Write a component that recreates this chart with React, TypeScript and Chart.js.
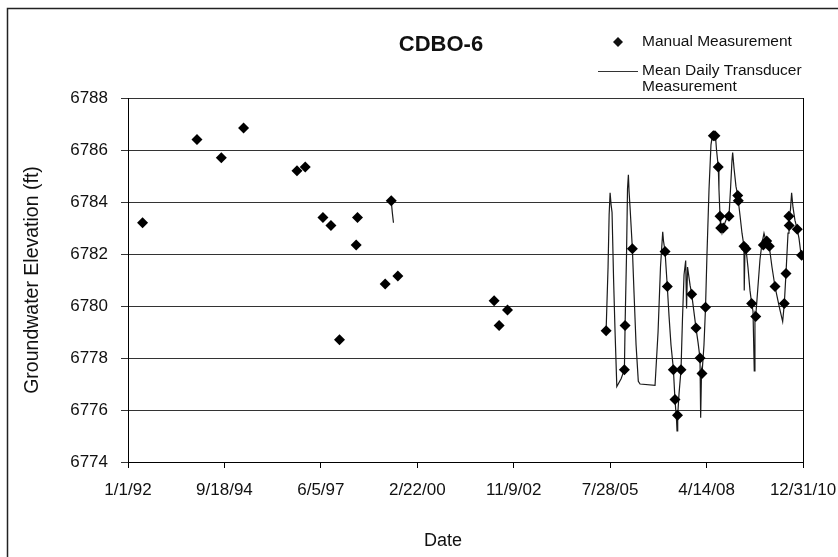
import React, { useEffect, useRef } from "react";
import { Chart, registerables } from "chart.js";

Chart.register(...registerables);

const chartTitle = "CDBO-6";
const xAxisTitle = "Date";
const yAxisTitle = "Groundwater Elevation (ft)";
const manualLabel = "Manual Measurement";
const transducerLabel = ["Mean Daily Transducer", "Measurement"];

const xTickLabels = ["1/1/92", "9/18/94", "6/5/97", "2/22/00", "11/9/02", "7/28/05", "4/14/08", "12/31/10"];
const xStart = "1992-01-01";
const xEnd = "2010-12-31";
const yMin = 6774;
const yMax = 6788;
const yStep = 2;

const manualDates = [
  "1992-05-30", "1993-12-10", "1994-08-17", "1995-04-03", "1996-10-03", "1996-12-27",
  "1997-06-27", "1997-09-17", "1997-12-14", "1998-06-04", "1998-06-17", "1999-03-29",
  "1999-05-30", "1999-08-06", "2002-04-22", "2002-06-12", "2002-09-06",
  "2005-06-16", "2005-12-21", "2005-12-28", "2006-03-13", "2007-02-12", "2007-03-07",
  "2007-05-08", "2007-05-25", "2007-06-20", "2007-07-26", "2007-11-13", "2007-12-27",
  "2008-02-07", "2008-02-27", "2008-04-03", "2008-06-22", "2008-07-09", "2008-08-12",
  "2008-08-30", "2008-09-06", "2008-10-03", "2008-11-30", "2009-02-28", "2009-03-06",
  "2009-05-03", "2009-05-24", "2009-07-21", "2009-09-01", "2009-11-18", "2009-12-23",
  "2010-01-19", "2010-03-18", "2010-06-21", "2010-07-09", "2010-08-08", "2010-08-11",
  "2010-11-02", "2010-12-17",
];
const manualElev = [
  6783.2, 6786.4, 6785.7, 6786.85, 6785.2, 6785.35,
  6783.4, 6783.1, 6778.7, 6782.35, 6783.4, 6780.85,
  6784.05, 6781.15, 6780.2, 6779.25, 6779.85,
  6779.05, 6777.55, 6779.25, 6782.2, 6782.1, 6780.75,
  6777.55, 6776.4, 6775.8, 6777.55, 6780.45, 6779.15,
  6778.0, 6777.4, 6779.95, 6786.55, 6786.55, 6785.35,
  6783.45, 6783.0, 6783.0, 6783.45, 6784.25, 6784.05,
  6782.3, 6782.2, 6780.1, 6779.6, 6782.35, 6782.5,
  6782.3, 6780.75, 6780.1, 6781.25, 6783.45, 6783.1,
  6782.95, 6781.95,
];

const transducerDates = [
  "1999-05-30", "1999-06-10", "1999-06-22", "2002-01-01",
  "2005-06-16", "2005-07-06", "2005-07-17", "2005-07-27", "2005-08-06", "2005-08-16",
  "2005-09-01", "2005-09-16", "2005-10-04", "2005-11-17", "2005-12-21", "2005-12-28",
  "2006-01-12", "2006-01-22", "2006-01-31", "2006-02-07", "2006-02-17", "2006-03-13",
  "2006-03-30", "2006-04-20", "2006-05-13", "2006-05-31", "2006-11-01", "2006-12-02",
  "2006-12-27", "2007-01-19", "2007-01-27", "2007-02-12", "2007-02-22", "2007-03-07",
  "2007-03-25", "2007-04-14", "2007-05-08", "2007-05-25", "2007-06-10", "2007-06-15",
  "2007-06-22", "2007-07-05", "2007-07-26", "2007-08-10", "2007-08-26", "2007-09-12",
  "2007-09-21", "2007-10-01", "2007-10-27", "2007-11-13", "2007-12-27", "2008-01-17",
  "2008-02-06", "2008-02-13", "2008-02-22", "2008-02-27", "2008-03-18", "2008-04-03",
  "2008-04-18", "2008-05-09", "2008-05-29", "2008-06-14", "2008-06-29", "2008-07-15",
  "2008-07-25", "2008-08-12", "2008-08-19", "2008-08-30", "2008-09-06", "2008-09-19",
  "2008-10-03", "2008-10-20", "2008-11-10", "2008-11-30", "2008-12-16", "2008-12-31",
  "2009-01-07", "2009-01-21", "2009-02-10", "2009-02-28", "2009-03-06", "2009-03-23",
  "2009-04-13", "2009-05-03", "2009-05-06", "2009-05-14", "2009-05-24", "2009-06-13",
  "2009-07-04", "2009-07-21", "2009-08-04", "2009-08-17", "2009-08-24", "2009-09-01",
  "2009-09-19", "2009-10-15", "2009-11-04", "2009-11-25", "2009-12-15", "2010-01-18",
  "2010-02-15", "2010-03-18", "2010-04-18", "2010-05-08", "2010-06-05", "2010-06-22",
  "2010-07-09", "2010-07-30", "2010-08-09", "2010-08-24", "2010-09-05", "2010-09-19",
  "2010-10-09", "2010-11-02", "2010-11-20", "2010-12-10", "2010-12-25",
];
const transducerElev = [
  6784.05, 6783.6, 6783.2, null,
  6779.05, 6781.5, 6783.5, 6784.35, 6783.9, 6783.6,
  6781.0, 6779.0, 6776.9, 6777.2, 6777.55, 6779.25,
  6782.0, 6784.5, 6785.05, 6784.4, 6783.8, 6782.2,
  6780.5, 6778.5, 6777.1, 6777.0, 6776.95, 6779.0,
  6781.5, 6782.85, 6782.5, 6782.1, 6781.5, 6780.75,
  6779.6, 6778.5, 6777.6, 6776.4, 6775.6, 6775.2,
  6775.8, 6776.6, 6777.55, 6779.5, 6781.2, 6781.75,
  6779.9, 6781.5, 6780.8, 6780.45, 6779.15, 6778.6,
  6778.0, 6775.7, 6777.5, 6777.4, 6778.5, 6779.95,
  6782.0, 6784.5, 6786.2, 6786.6, 6786.65, 6786.5,
  6786.0, 6785.35, 6784.5, 6783.45, 6783.0, 6782.8,
  6783.0, 6783.2, 6783.4, 6783.45, 6784.5, 6785.6,
  6785.9, 6785.3, 6784.6, 6784.25, 6784.05, 6783.5,
  6782.8, 6782.3, 6780.6, 6782.3, 6782.2, 6781.5,
  6780.6, 6780.1, 6779.8, 6777.5, 6779.7, 6779.6,
  6780.5, 6781.8, 6782.4, 6782.8, 6782.5, 6782.3,
  6781.5, 6780.75, 6780.2, 6779.85, 6779.4, 6780.1,
  6781.25, 6782.8, 6783.45, 6783.7, 6784.35, 6783.8,
  6783.3, 6782.95, 6782.6, 6782.0, 6781.9,
];

const FONT = '"Liberation Sans", Arial, Helvetica, sans-serif';
const INK = "#111";

function toSerial(s: string): number {
  const [y, m, d] = s.split("-").map(Number);
  return Math.round((Date.UTC(y, m - 1, d) - Date.UTC(1899, 11, 30)) / 86400000);
}

const decorPlugin = {
  id: "decor",
  beforeDraw(chart: any) {
    const ctx = chart.ctx;
    ctx.save();
    ctx.fillStyle = "#fff";
    ctx.fillRect(0, 0, chart.width, chart.height);
    ctx.restore();
  },
  afterDraw(chart: any) {
    const ctx = chart.ctx;
    const { right, top, bottom } = chart.chartArea;
    ctx.save();
    // outer chart border
    ctx.strokeStyle = "#222";
    ctx.lineWidth = 1.5;
    ctx.beginPath();
    ctx.moveTo(7.5, chart.height);
    ctx.lineTo(7.5, 8.5);
    ctx.lineTo(chart.width, 8.5);
    ctx.stroke();
    // plot area right border
    ctx.strokeStyle = "#000";
    ctx.lineWidth = 1;
    ctx.beginPath();
    ctx.moveTo(Math.round(right) + 0.5, top);
    ctx.lineTo(Math.round(right) + 0.5, bottom);
    ctx.stroke();
    // title
    ctx.fillStyle = INK;
    ctx.textAlign = "center";
    ctx.textBaseline = "middle";
    ctx.font = `bold 22px ${FONT}`;
    ctx.fillText(chartTitle, 441, 45);
    // axis titles
    ctx.font = `18px ${FONT}`;
    ctx.fillText(xAxisTitle, 443, 541);
    ctx.save();
    ctx.translate(33, 280);
    ctx.rotate(-Math.PI / 2);
    ctx.font = `19.5px ${FONT}`;
    ctx.fillText(yAxisTitle, 0, 0);
    ctx.restore();
    // legend
    ctx.beginPath();
    ctx.moveTo(618, 42 - 5);
    ctx.lineTo(618 + 5, 42);
    ctx.lineTo(618, 42 + 5);
    ctx.lineTo(618 - 5, 42);
    ctx.closePath();
    ctx.fill();
    ctx.strokeStyle = "#333";
    ctx.lineWidth = 1;
    ctx.beginPath();
    ctx.moveTo(598, 71.5);
    ctx.lineTo(638, 71.5);
    ctx.stroke();
    ctx.textAlign = "left";
    ctx.font = `15.5px ${FONT}`;
    ctx.fillText(manualLabel, 642, 42);
    ctx.fillText(transducerLabel[0], 642, 71);
    ctx.fillText(transducerLabel[1], 642, 87);
    ctx.restore();
  },
};

export default function App() {
  const ref = useRef<HTMLCanvasElement | null>(null);
  useEffect(() => {
    document.body.style.margin = "0";
    const canvas = ref.current;
    if (!canvas) return;
    const xMin = toSerial(xStart);
    const xMax = toSerial(xEnd);
    const manualData = manualDates.map((d, i) => ({ x: toSerial(d), y: manualElev[i] }));
    const transData = transducerDates.map((d, i) => ({ x: toSerial(d), y: transducerElev[i] }));
    const chart = new Chart(canvas, {
      type: "line",
      data: {
        datasets: [
          {
            label: manualLabel,
            data: manualData,
            showLine: false,
            pointStyle: "rectRot",
            pointRadius: 5.5,
            pointBackgroundColor: "#000",
            pointBorderWidth: 0,
            borderColor: "#000",
            order: 0,
          },
          {
            label: transducerLabel.join(" "),
            data: transData as any,
            borderColor: "#1a1a1a",
            borderWidth: 1.2,
            pointRadius: 0,
            spanGaps: false,
            tension: 0,
            order: 1,
          },
        ],
      },
      options: {
        responsive: false,
        animation: false,
        layout: { padding: { left: 0, top: 98, right: 97, bottom: 0 } },
        plugins: {
          legend: { display: false },
          title: { display: false },
          tooltip: { enabled: false },
        },
        scales: {
          x: {
            type: "linear",
            min: xMin,
            max: xMax,
            afterBuildTicks: (scale: any) => {
              scale.ticks = xTickLabels.map((_, k) => ({ value: xMin + (k * (xMax - xMin)) / (xTickLabels.length - 1) }));
            },
            afterFit: (scale: any) => {
              scale.height = 158;
            },
            ticks: {
              autoSkip: false,
              maxRotation: 0,
              minRotation: 0,
              padding: 12,
              color: INK,
              font: { family: FONT, size: 17 },
              callback: (_v: any, i: number) => xTickLabels[i],
            },
            grid: { drawOnChartArea: false, drawTicks: true, tickLength: 6, color: "#000" },
            border: { display: true, color: "#000", width: 1 },
          },
          y: {
            type: "linear",
            min: yMin,
            max: yMax,
            afterFit: (scale: any) => {
              scale.width = 128;
            },
            ticks: {
              stepSize: yStep,
              padding: 13,
              color: INK,
              font: { family: FONT, size: 17 },
              callback: (v: any) => String(v),
            },
            grid: { color: "#333", lineWidth: 1, tickLength: 7, drawTicks: true },
            border: { display: true, color: "#000", width: 1 },
          },
        },
      },
      plugins: [decorPlugin],
    });
    return () => chart.destroy();
  }, []);
  return (
    <div style={{ position: "relative", width: 838, height: 557, overflow: "hidden", background: "#fff" }}>
      <canvas ref={ref} width={900} height={620} style={{ display: "block", width: 900, height: 620 }} />
    </div>
  );
}
